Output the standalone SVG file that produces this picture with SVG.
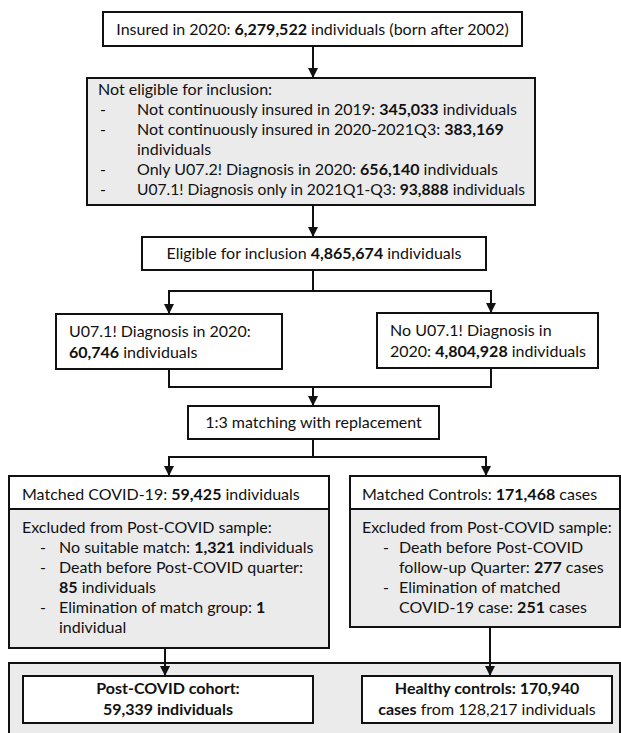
<svg xmlns="http://www.w3.org/2000/svg" width="621" height="733" viewBox="0 0 621 733">
<defs>
<marker id="ah" viewBox="0 0 10 10" refX="10" refY="5" markerWidth="10" markerHeight="10" markerUnits="userSpaceOnUse" orient="auto">
<path d="M0,0 L10,5 L0,10 z" fill="#111"/>
</marker>
</defs>
<style>
text{font-family:Lato,"Open Sans","Liberation Sans",sans-serif;font-size:16px;fill:#111}
.b{font-weight:bold}
.s{font-size:15.6px}
.box{fill:#fff;stroke:#111;stroke-width:2}
.grey{fill:#ebebeb;stroke:#111;stroke-width:2}
.c{text-anchor:middle}
#connectors path{fill:none;stroke:#111;stroke-width:2}
</style>
<rect width="621" height="733" fill="#fff"/>

<g id="n-insured">
<rect class="box" x="103" y="12" width="419" height="34"/>
<text class="c" x="312.5" y="35">Insured in 2020: <tspan class="b">6,279,522</tspan> individuals (born after 2002)</text>
</g>

<g id="n-noteligible">
<rect class="grey" x="87" y="78" width="448" height="127"/>
<text x="98" y="95">Not eligible for inclusion:</text>
<text x="100" y="115">-</text><text x="137" y="115">Not continuously insured in 2019: <tspan class="b">345,033</tspan> individuals</text>
<text x="100" y="135">-</text><text x="137" y="135">Not continuously insured in 2020-2021Q3: <tspan class="b">383,169</tspan></text>
<text x="137" y="155">individuals</text>
<text x="100" y="175">-</text><text x="137" y="175">Only U07.2! Diagnosis in 2020: <tspan class="b">656,140</tspan> individuals</text>
<text x="100" y="195">-</text><text class="s" x="137" y="195">U07.1! Diagnosis only in 2021Q1-Q3: <tspan class="b">93,888</tspan> individuals</text>
</g>

<g id="n-eligible">
<rect class="box" x="142" y="237" width="344" height="33"/>
<text class="c" x="314" y="259">Eligible for inclusion <tspan class="b">4,865,674</tspan> individuals</text>
</g>

<g id="n-u071">
<rect class="box" x="56" y="314" width="226" height="55"/>
<text x="69" y="337">U07.1! Diagnosis in 2020:</text>
<text x="69" y="358"><tspan class="b">60,746</tspan> individuals</text>
</g>

<g id="n-nou071">
<rect class="box" x="377" y="313" width="221" height="55"/>
<text x="390" y="336">No U07.1! Diagnosis in</text>
<text x="390" y="357">2020: <tspan class="b">4,804,928</tspan> individuals</text>
</g>

<g id="n-matching">
<rect class="box" x="188" y="406" width="251" height="33"/>
<text class="c" x="313.5" y="428">1:3 matching with replacement</text>
</g>

<g id="n-matchedcovid">
<rect class="grey" x="9" y="476" width="320" height="172"/>
<rect class="box" x="9" y="476" width="320" height="33"/>
<text x="22" y="500">Matched COVID-19: <tspan class="b">59,425</tspan> individuals</text>
<text x="22" y="533">Excluded from Post-COVID sample:</text>
<text x="40" y="553">-</text><text x="59" y="553">No suitable match: <tspan class="b">1,321</tspan> individuals</text>
<text x="40" y="573">-</text><text x="59" y="573">Death before Post-COVID quarter:</text>
<text x="59" y="593"><tspan class="b">85</tspan> individuals</text>
<text x="40" y="613">-</text><text x="59" y="613">Elimination of match group: <tspan class="b">1</tspan></text>
<text x="59" y="633">individual</text>
</g>

<g id="n-matchedcontrols">
<rect class="grey" x="350" y="476" width="270" height="151"/>
<rect class="box" x="350" y="476" width="270" height="33"/>
<text x="362" y="500">Matched Controls: <tspan class="b">171,468</tspan> cases</text>
<text x="362" y="533">Excluded from Post-COVID sample:</text>
<text x="383" y="553">-</text><text x="399" y="553">Death before Post-COVID</text>
<text x="399" y="573">follow-up Quarter: <tspan class="b">277</tspan> cases</text>
<text x="383" y="593">-</text><text x="399" y="593">Elimination of matched</text>
<text x="399" y="613">COVID-19 case: <tspan class="b">251</tspan> cases</text>
</g>

<g id="n-final">
<rect class="grey" x="9" y="663" width="611" height="90"/>
</g>

<g id="n-cohort">
<rect class="box" x="23" y="676" width="290" height="47"/>
<text class="c b" x="168" y="694">Post-COVID cohort:</text>
<text class="c b" x="168" y="715">59,339 individuals</text>
</g>

<g id="n-healthy">
<rect class="box" x="362" y="676" width="250" height="47"/>
<text class="c" x="487" y="694"><tspan class="b">Healthy controls: 170,940</tspan></text>
<text class="c" x="487" y="715"><tspan class="b">cases</tspan> from 128,217 individuals</text>
</g>

<g id="connectors">
<path d="M313,46 V78" marker-end="url(#ah)"/>
<path d="M313,205 V237" marker-end="url(#ah)"/>
<path d="M313,270 V291 M169,291 H491"/>
<path d="M169,290 V314" marker-end="url(#ah)"/>
<path d="M491,290 V313" marker-end="url(#ah)"/>
<path d="M169,369 V387 M491,368 V387 M168,387 H492"/>
<path d="M313,386 V406" marker-end="url(#ah)"/>
<path d="M313,439 V457 M168,457 H487"/>
<path d="M169,456 V476" marker-end="url(#ah)"/>
<path d="M486,456 V476" marker-end="url(#ah)"/>
<path d="M165,648 V676" marker-end="url(#ah)"/>
<path d="M490,627 V676" marker-end="url(#ah)"/>
</g>
</svg>
